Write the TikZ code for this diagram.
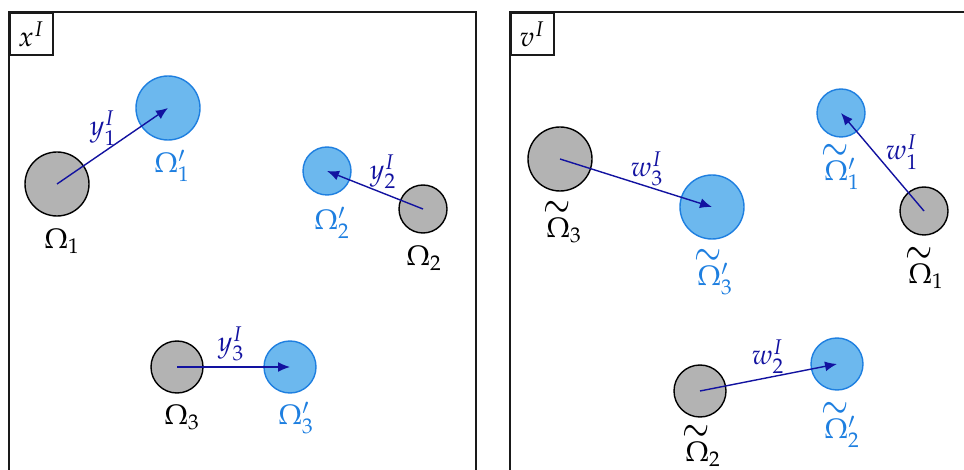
\documentclass[tikz,border=0pt]{standalone}
\usepackage{amsmath}
\usepackage{graphicx}
\usepackage{mathpazo}
\usetikzlibrary{arrows.meta,positioning}
\definecolor{domInk}{HTML}{1A1A1A}
\definecolor{domGray}{HTML}{B3B3B3}
\definecolor{domBlue}{HTML}{1E7FE0}
\definecolor{domBlueFill}{HTML}{6CB8EE}
\definecolor{domMap}{HTML}{1212A0}
% a deformed domain carries a tall tilde of the width of the Omega
\newcommand{\wideOmega}{\mathord{\rlap{\makebox[.77em]{\raisebox{.70em}{\scalebox{1.2}[1.6]{$\sim$}}}}\Omega}}
\tikzset{
  % One unit is one pixel of the figure; y runs downwards.
  dom/base/.style={
    font=\fontsize{14pt}{16pt}\selectfont,
    line join=miter
  },
  dom/frame/.style={
    draw=domInk,
    line width=1pt
  },
  dom/tag/.style={
    draw=domInk,
    line width=.9pt,
    anchor=north west,
    minimum width=21.5pt,
    minimum height=21pt,
    inner sep=0pt
  },
  dom/source/.style={
    circle,
    draw=black,
    fill=domGray,
    line width=.7pt,
    inner sep=0pt
  },
  dom/target/.style={
    circle,
    draw=domBlue,
    fill=domBlueFill,
    line width=.7pt,
    inner sep=0pt
  },
  dom/map/.style={
    -{Latex[length=6pt,width=5pt]},
    draw=domMap,
    line width=.7pt
  },
  dom/map label/.style={text=domMap,inner sep=0pt},
  dom/source label/.style={text=black,inner sep=0pt},
  dom/target label/.style={text=domBlue,inner sep=0pt}
}
\begin{document}
\begin{tikzpicture}[dom/base,x=.5pt,y=-.5pt,
  big/.style={minimum size=32pt},
  small/.style={minimum size=24pt},
  mid/.style={minimum size=26pt}]
  \useasboundingbox (0,0) rectangle (964,470);
  \clip (0,0) rectangle (964,470);

  % (left) the reference configuration
  \draw[dom/frame] (9,12) rectangle (476,490);
  \node[dom/tag] (tagX) at (9,12) {$x^I$};
  \node[dom/source,big] (S1) at (57,184) {};
  \node[dom/target,big] (T1) at (168,108) {};
  \node[dom/source,small] (S2) at (423,209) {};
  \node[dom/target,small] (T2) at (327,171) {};
  \node[dom/source,mid] (S3) at (177,367) {};
  \node[dom/target,mid] (T3) at (290,367) {};
  \draw[dom/map] (S1.center) -- (T1.center);
  \draw[dom/map] (S2.center) -- (T2.center);
  \draw[dom/map] (S3.center) -- (T3.center);
  \node[dom/map label] (y1) at (103,128) {$y^I_1$};
  \node[dom/map label] (y2) at (383,172) {$y^I_2$};
  \node[dom/map label] (y3) at (231,344) {$y^I_3$};
  \node[dom/source label] (lS1) at (62,241) {$\Omega_1$};
  \node[dom/target label] (lT1) at (172,166) {$\Omega'_1$};
  \node[dom/source label] (lS2) at (424,258) {$\Omega_2$};
  \node[dom/target label] (lT2) at (332,223) {$\Omega'_2$};
  \node[dom/source label] (lS3) at (182,417) {$\Omega_3$};
  \node[dom/target label] (lT3) at (296,418) {$\Omega'_3$};

  % (right) the deformed configuration
  \draw[dom/frame] (510,12) rectangle (980,490);
  \node[dom/tag] (tagV) at (510,12) {$v^I$};
  \node[dom/source,big] (R3) at (560,159) {};
  \node[dom/target,big] (Q3) at (712,207) {};
  \node[dom/source,small] (R1) at (924,211) {};
  \node[dom/target,small] (Q1) at (841,113) {};
  \node[dom/source,mid] (R2) at (700,391) {};
  \node[dom/target,mid] (Q2) at (837,364) {};
  \draw[dom/map] (R3.center) -- (Q3.center);
  \draw[dom/map] (R1.center) -- (Q1.center);
  \draw[dom/map] (R2.center) -- (Q2.center);
  \node[dom/map label] (w3) at (647,169) {$w^I_3$};
  \node[dom/map label] (w1) at (902,152) {$w^I_1$};
  \node[dom/map label] (w2) at (768,357) {$w^I_2$};
  \node[dom/source label] (lR3) at (564,222) {$\wideOmega{}_3$};
  \node[dom/target label] (lQ3) at (715,272) {$\wideOmega{}'_3$};
  \node[dom/source label] (lR1) at (926,268) {$\wideOmega{}_1$};
  \node[dom/target label] (lQ1) at (842,167) {$\wideOmega{}'_1$};
  \node[dom/source label] (lR2) at (703,446) {$\wideOmega{}_2$};
  \node[dom/target label] (lQ2) at (842,425) {$\wideOmega{}'_2$};
\end{tikzpicture}
\end{document}
